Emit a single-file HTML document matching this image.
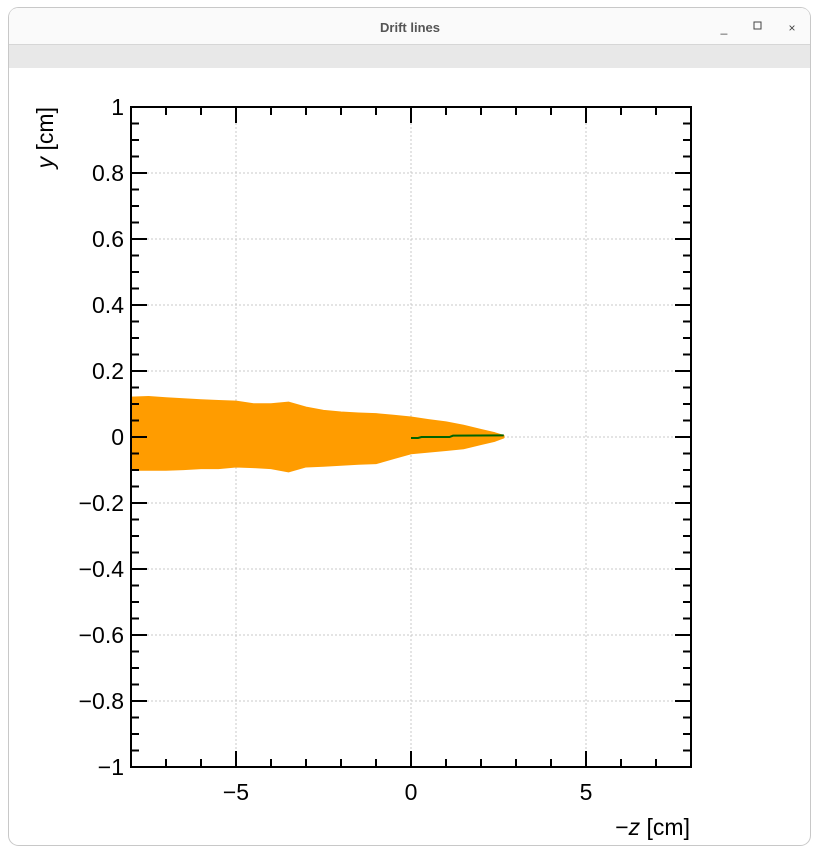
<!DOCTYPE html>
<html><head><meta charset="utf-8"><style>
html,body{margin:0;padding:0;background:#fff;width:820px;height:855px;overflow:hidden;font-family:"Liberation Sans",sans-serif}
</style></head><body>
<svg width="820" height="855" xmlns="http://www.w3.org/2000/svg">
<rect x="0" y="0" width="820" height="855" fill="#ffffff"/>
<rect x="8.5" y="7.5" width="802" height="838" rx="10" fill="#ffffff" stroke="#c8c8c8"/>
<path d="M9 44 V18 Q9 8 19 8 H800 Q810 8 810 18 V44 Z" fill="#fafafa"/>
<line x1="9" y1="44.5" x2="810" y2="44.5" stroke="#d6d6d6"/>
<rect x="9" y="45" width="801" height="23" fill="#e8e8e8"/>
<text x="410" y="32" text-anchor="middle" font-size="13" font-weight="bold" fill="#555" font-family="Liberation Sans, sans-serif">Drift lines</text>
<text x="724" y="32" text-anchor="middle" font-size="12" fill="#444">_</text>
<rect x="754" y="22" width="7" height="7" fill="none" stroke="#444"/>
<text x="792" y="32" text-anchor="middle" font-size="12" fill="#444">×</text>
<g id="plot"></g>
</svg>
<script>
const zUpper=[-8,-7.5,-7,-6.5,-6,-5.5,-5,-4.5,-4,-3.5,-3,-2.5,-2,-1.5,-1,-0.5,0,0.5,1,1.5,2,2.4,2.65];
const yUpper=[0.12,0.122,0.118,0.115,0.112,0.11,0.108,0.1,0.1,0.105,0.09,0.08,0.075,0.072,0.07,0.065,0.06,0.052,0.045,0.035,0.022,0.012,0.004];
const zLower=[-8,-7.5,-7,-6.5,-6,-5.5,-5,-4.5,-4,-3.5,-3,-2.5,-2,-1.5,-1,-0.5,0,0.5,1,1.5,2,2.4,2.65];
const yLower=[-0.1,-0.1,-0.1,-0.098,-0.095,-0.095,-0.09,-0.092,-0.095,-0.105,-0.09,-0.088,-0.085,-0.082,-0.08,-0.065,-0.05,-0.045,-0.04,-0.035,-0.022,-0.012,-0.002];
const zGreen=[0,0.2,0.3,1.1,1.2,2.65];
const yGreen=[-0.003,-0.003,0.0,0.0,0.004,0.005];
const xTicks=[-5,0,5];
const xTickLabels=["\u22125","0","5"];
const yTicks=[1,0.8,0.6,0.4,0.2,0,-0.2,-0.4,-0.6,-0.8,-1];
const yTickLabels=["1","0.8","0.6","0.4","0.2","0","\u22120.2","\u22120.4","\u22120.6","\u22120.8","\u22121"];

const L=131,R=691,T=107,B=767;
const sx=v=>L+(v+8)/16*(R-L);
const sy=v=>T+(1-v)/2*(B-T);
const NS="http://www.w3.org/2000/svg";
const g=document.getElementById('plot');
function mk(tag,attrs){const e=document.createElementNS(NS,tag);for(const k in attrs)e.setAttribute(k,attrs[k]);g.appendChild(e);return e;}

// grid
xTicks.forEach(v=>{const e=mk('line',{x1:sx(v),x2:sx(v),y1:T,y2:B,stroke:'#c8c8c8','stroke-dasharray':'2,2'});

});
yTicks.forEach(v=>{const e=mk('line',{x1:L,x2:R,y1:sy(v),y2:sy(v),stroke:'#c8c8c8','stroke-dasharray':'2,2'});

});

// envelope
let pts=zUpper.map((z,i)=>sx(z)+','+sy(yUpper[i]));
for(let i=zLower.length-1;i>=0;i--)pts.push(sx(zLower[i])+','+sy(yLower[i]));
const env=mk('polygon',{points:pts.join(' '),fill:'#ff9c00',stroke:'#ff9c00','stroke-width':1.5,'stroke-linejoin':'round'});


const gl=mk('polyline',{points:zGreen.map((z,i)=>sx(z)+','+sy(yGreen[i])).join(' '),fill:'none',stroke:'#006400','stroke-width':2});



// frame
const fr=mk('rect',{x:L,y:T,width:R-L,height:B-T,fill:'none',stroke:'#000','stroke-width':2});



// ticks
for(let v=-7;v<=7;v++){const len=(v%5===0)?16:8;
 [[B,-len],[T,len]].forEach(([y0,d])=>{const e=mk('line',{x1:sx(v),x2:sx(v),y1:y0,y2:y0+d,stroke:'#000','stroke-width':2});
 
 });}
for(let k=-19;k<=19;k++){const v=k*0.05;const len=(k%4===0)?16:8;
 [[L,len],[R,-len]].forEach(([x0,d])=>{const e=mk('line',{x1:x0,x2:x0+d,y1:sy(v),y2:sy(v),stroke:'#000','stroke-width':2});
 
 });}

// labels
xTicks.forEach((v,i)=>{const e=mk('text',{x:sx(v),y:800,'text-anchor':'middle','font-size':23,fill:'#000'});e.textContent=xTickLabels[i];

});
yTicks.forEach((v,i)=>{const e=mk('text',{x:124,y:sy(v)+8,'text-anchor':'end','font-size':23,fill:'#000'});e.textContent=yTickLabels[i];

});
const xt=mk('text',{x:690,y:835,'text-anchor':'end','font-size':23,fill:'#000'});
xt.innerHTML='\u2212<tspan font-style="italic">z</tspan> [cm]';


const yt=mk('text',{x:0,y:0,'text-anchor':'end','font-size':23,fill:'#000',transform:'translate(53,107) rotate(-90)'});
yt.innerHTML='<tspan font-style="italic">y</tspan> [cm]';


</script>
</body></html>
